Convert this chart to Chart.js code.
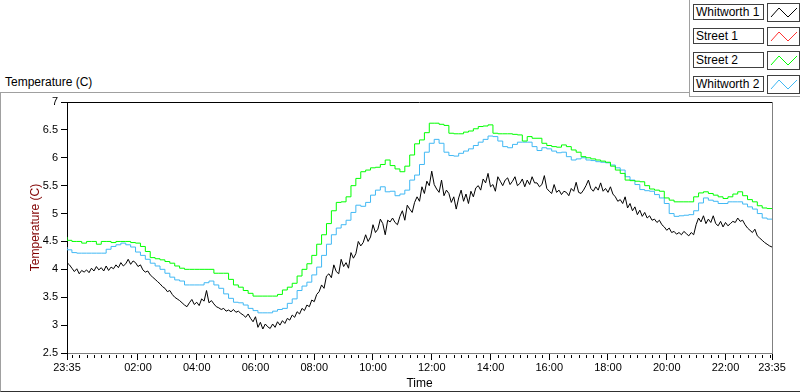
<!DOCTYPE html>
<html><head><meta charset="utf-8">
<script src="https://cdn.jsdelivr.net/npm/chart.js@4/dist/chart.umd.min.js"></script>
<style>
html,body{margin:0;padding:0;background:#fff;}
#wrap{position:relative;width:800px;height:392px;overflow:hidden;font-family:"Liberation Sans",Arial,sans-serif;color:#000;}
#frame{position:absolute;left:0;top:92px;width:800px;height:300px;border-left:1px solid #a0a0a0;border-top:1px solid #a0a0a0;border-bottom:1px solid #303030;box-sizing:border-box;}
#toplabel{position:absolute;left:5px;top:75px;font-size:12px;line-height:14px;}
#legend{position:absolute;left:689px;top:0;width:111px;height:97px;background:#fff;border-left:1px solid #a0a0a0;border-bottom:1px solid #a0a0a0;box-sizing:border-box;z-index:2;}
.lrow{position:absolute;left:0;width:111px;height:20px;}
.lname{position:absolute;left:3px;top:1px;width:71px;height:16px;border:1px solid #404040;box-sizing:border-box;font-size:12px;line-height:14px;padding-left:2px;white-space:nowrap;overflow:hidden;}
.licon{position:absolute;left:77px;top:0;width:33px;height:19px;border:1px solid #404040;box-sizing:border-box;}
canvas{position:absolute;left:0;top:0;}
</style></head>
<body><div id="wrap">
<div id="frame"></div>
<div id="toplabel">Temperature (C)</div>
<div id="legend"></div>
<canvas id="c" width="800" height="392"></canvas>
</div>
<script>
// ---- data ----
const seriesNames = ['Whitworth 1', 'Street 1', 'Street 2', 'Whitworth 2'];
const seriesColors = ['#000000', '#ff3030', '#00ff00', '#40b8f4'];
const xTickLabels = ['23:35','02:00','04:00','06:00','08:00','10:00','12:00','14:00','16:00','18:00','20:00','22:00','23:35'];
const xTickMinutes = [0,145,265,385,505,625,745,865,985,1105,1225,1345,1440]; // minutes after 23:35
const yTicks = [2.5,3,3.5,4,4.5,5,5.5,6,6.5,7];

// Whitworth 1, every 5 minutes from 23:35
const whitworth1 = [
 4.12,4.08,4.02,3.96,4.01,3.92,3.98,3.95,3.99,3.94,4.02,3.97,
 4.05,3.99,4.03,3.97,4.06,3.98,4.04,4.01,4.08,4.03,4.12,4.06,
 4.10,4.18,4.09,4.15,4.12,4.05,4.08,3.99,3.95,3.97,3.90,3.86,
 3.82,3.78,3.74,3.69,3.66,3.60,3.62,3.55,3.50,3.47,3.44,3.40,
 3.36,3.33,3.40,3.46,3.37,3.41,3.35,3.47,3.43,3.62,3.40,3.44,
 3.38,3.33,3.31,3.28,3.30,3.25,3.27,3.24,3.28,3.23,3.25,3.21,
 3.18,3.14,3.20,3.12,3.06,3.15,2.96,3.05,2.93,3.02,2.97,2.94,
 3.02,2.96,3.06,3.00,3.08,3.03,3.12,3.09,3.18,3.14,3.24,3.20,
 3.30,3.26,3.36,3.33,3.45,3.42,3.55,3.60,3.72,3.66,3.88,3.92,
 3.85,4.08,3.96,3.92,4.18,4.05,4.12,4.02,4.30,4.20,4.28,4.50,
 4.42,4.48,4.62,4.50,4.58,4.80,4.66,4.72,4.90,4.82,4.62,4.88,
 4.85,4.92,4.84,4.80,4.95,5.05,4.88,5.15,5.08,5.02,5.20,5.30,
 5.22,5.48,5.36,5.58,5.50,5.76,5.52,5.44,5.38,5.60,5.32,5.42,
 5.36,5.20,5.30,5.08,5.28,5.42,5.22,5.35,5.18,5.40,5.30,5.46,
 5.50,5.42,5.62,5.55,5.72,5.48,5.52,5.40,5.66,5.58,5.50,5.60,
 5.64,5.52,5.58,5.66,5.50,5.54,5.62,5.48,5.60,5.52,5.66,5.55,
 5.55,5.48,5.52,5.68,5.45,5.40,5.36,5.52,5.38,5.42,5.34,5.40,
 5.38,5.32,5.45,5.40,5.56,5.38,5.36,5.42,5.50,5.60,5.45,5.40,
 5.48,5.42,5.55,5.40,5.45,5.38,5.48,5.35,5.30,5.22,5.25,5.18,
 5.30,5.10,5.18,5.05,5.12,4.98,5.06,4.95,5.02,4.92,4.96,4.88,
 4.90,4.84,4.88,4.80,4.76,4.70,4.74,4.66,4.68,4.63,4.66,4.62,
 4.68,4.64,4.60,4.66,4.62,4.80,4.92,4.85,4.96,4.82,4.90,4.84,
 4.96,4.82,4.78,4.86,4.76,4.84,4.78,4.82,4.86,4.84,4.92,4.86,
 4.88,4.80,4.74,4.70,4.66,4.72,4.60,4.56,4.52,4.48,4.45,4.42,4.40
];
const whitworth1Step = 5;

// Street 1 has no samples in the picture
const street1 = [];

// Street 2, every 10 minutes from 23:35
const street2 = [
 4.58,4.52,4.50,4.50,4.47,4.50,4.50,4.45,4.50,4.50,4.48,4.50,
 4.50,4.50,4.48,4.47,4.41,4.32,4.21,4.19,4.17,4.14,4.11,4.06,
 4.02,4.00,4.00,4.00,4.00,4.00,4.00,3.93,3.93,3.93,3.82,3.72,
 3.68,3.62,3.57,3.52,3.52,3.52,3.52,3.52,3.55,3.63,3.68,3.75,
 3.88,4.00,4.10,4.25,4.45,4.62,4.82,5.05,5.20,5.21,5.30,5.50,
 5.63,5.75,5.78,5.82,5.83,5.88,5.96,5.86,5.80,5.75,5.85,6.05,
 6.25,6.32,6.45,6.62,6.62,6.60,6.58,6.44,6.43,6.43,6.46,6.48,
 6.52,6.56,6.57,6.59,6.44,6.43,6.43,6.43,6.42,6.41,6.30,6.38,
 6.35,6.35,6.26,6.22,6.20,6.19,6.23,6.20,6.14,6.10,6.02,6.00,
 5.98,5.96,5.94,5.92,5.85,5.78,5.72,5.60,5.59,5.58,5.57,5.50,
 5.44,5.42,5.40,5.28,5.24,5.21,5.21,5.21,5.21,5.30,5.37,5.39,
 5.36,5.33,5.30,5.27,5.30,5.35,5.39,5.32,5.25,5.21,5.14,5.10,
 5.09
];
const street2Step = 10;

// Whitworth 2, every 10 minutes from 23:35
const whitworth2 = [
 4.40,4.35,4.30,4.29,4.29,4.29,4.29,4.29,4.29,4.36,4.41,4.44,
 4.47,4.44,4.40,4.31,4.25,4.18,4.11,4.06,4.00,3.93,3.86,3.81,
 3.79,3.72,3.72,3.72,3.72,3.76,3.79,3.72,3.66,3.56,3.48,3.41,
 3.40,3.36,3.30,3.26,3.22,3.22,3.22,3.25,3.28,3.30,3.39,3.47,
 3.62,3.70,3.77,3.90,4.04,4.25,4.45,4.62,4.74,4.80,4.88,5.02,
 5.15,5.13,5.20,5.33,5.42,5.48,5.39,5.40,5.32,5.35,5.42,5.60,
 5.69,5.88,6.10,6.26,6.33,6.26,6.10,6.04,6.03,6.08,6.12,6.16,
 6.22,6.28,6.33,6.39,6.38,6.30,6.20,6.18,6.24,6.28,6.28,6.28,
 6.20,6.13,6.18,6.16,6.12,6.09,6.10,6.02,5.96,5.98,6.00,5.96,
 5.95,5.93,5.92,5.91,5.87,5.82,5.78,5.66,5.60,5.52,5.43,5.41,
 5.40,5.34,5.28,5.18,5.00,4.95,4.96,4.97,4.98,5.05,5.19,5.28,
 5.24,5.22,5.18,5.18,5.21,5.21,5.21,5.17,5.12,5.08,5.00,4.92,
 4.90
];
const whitworth2Step = 10;

// ---- legend (HTML) ----
const legendEl = document.getElementById('legend');
seriesNames.forEach((name, i) => {
  const row = document.createElement('div');
  row.className = 'lrow';
  row.style.top = (3 + i * 24) + 'px';
  row.innerHTML = '<div class="lname">' + name + '</div>' +
    '<div class="licon"><svg width="31" height="17" style="position:absolute;left:0;top:0">' +
    '<polyline points="3,13 11,4 20,13 29,4" fill="none" stroke="' + seriesColors[i] + '" stroke-width="1"/></svg></div>';
  legendEl.appendChild(row);
});

// ---- chart ----
const FONT = '"Liberation Sans", Arial, sans-serif';
const toXY = (arr, step) => arr.map((v, i) => ({x: i * step, y: v}));

const minorTicks = [];
for (let m = 10; m < 1440; m += 15) { if (!xTickMinutes.includes(m)) minorTicks.push(m); }

const framePlugin = {
  id: 'framePlugin',
  afterDraw(chart) {
    const {ctx, chartArea: a} = chart;
    const xs = chart.scales.x;
    ctx.save();
    ctx.lineWidth = 1;
    ctx.strokeStyle = '#000';
    ctx.beginPath();
    ctx.moveTo(a.left, a.top + 0.5); ctx.lineTo(a.right, a.top + 0.5);
    ctx.stroke();
    ctx.strokeStyle = '#808080';
    ctx.beginPath();
    ctx.moveTo(a.right + 0.5, a.top); ctx.lineTo(a.right + 0.5, a.bottom);
    ctx.stroke();
    ctx.strokeStyle = '#000';
    ctx.beginPath();
    minorTicks.forEach(m => {
      const px = Math.round(xs.getPixelForValue(m)) + 0.5;
      ctx.moveTo(px, a.bottom + 2); ctx.lineTo(px, a.bottom + 5);
    });
    ctx.stroke();
    ctx.restore();
  }
};

new Chart(document.getElementById('c'), {
  type: 'line',
  data: {
    datasets: [
      {label: seriesNames[0], data: toXY(whitworth1, whitworth1Step), borderColor: seriesColors[0]},
      {label: seriesNames[1], data: toXY(street1, 10), borderColor: seriesColors[1]},
      {label: seriesNames[2], data: toXY(street2, street2Step), borderColor: seriesColors[2], stepped: 'after'},
      {label: seriesNames[3], data: toXY(whitworth2, whitworth2Step), borderColor: seriesColors[3], stepped: 'after'}
    ]
  },
  options: {
    responsive: false,
    animation: false,
    layout: {padding: {left: 0, right: 28, top: 102, bottom: 0}},
    plugins: {legend: {display: false}, tooltip: {enabled: false}},
    elements: {point: {radius: 0}, line: {borderWidth: 1, tension: 0, fill: false}},
    scales: {
      x: {
        type: 'linear', min: 0, max: 1440, offset: false,
        afterBuildTicks: s => { s.ticks = xTickMinutes.map(v => ({value: v})); },
        afterFit: s => { s.height = 39; },
        ticks: {autoSkip: false, maxRotation: 0, minRotation: 0, padding: 1, color: '#000',
                font: {family: FONT, size: 11}, callback: (v, i) => xTickLabels[i]},
        grid: {drawOnChartArea: false, tickLength: 7, color: '#000'},
        border: {color: '#808080'},
        title: {display: true, text: 'Time', color: '#000', font: {family: FONT, size: 12}, padding: {top: 0, bottom: 1}}
      },
      y: {
        type: 'linear', min: 2.5, max: 7,
        afterBuildTicks: s => { s.ticks = yTicks.map(v => ({value: v})); },
        afterFit: s => { s.width = 67; },
        ticks: {padding: 3, color: '#000', font: {family: FONT, size: 11}, callback: v => String(v)},
        grid: {drawOnChartArea: false, tickLength: 6, color: '#000'},
        border: {color: '#000'},
        title: {display: true, text: 'Temperature (C)', color: '#800000', font: {family: FONT, size: 12}, padding: {top: 28, bottom: 0}}
      }
    }
  },
  plugins: [framePlugin]
});
</script>
</body></html>
